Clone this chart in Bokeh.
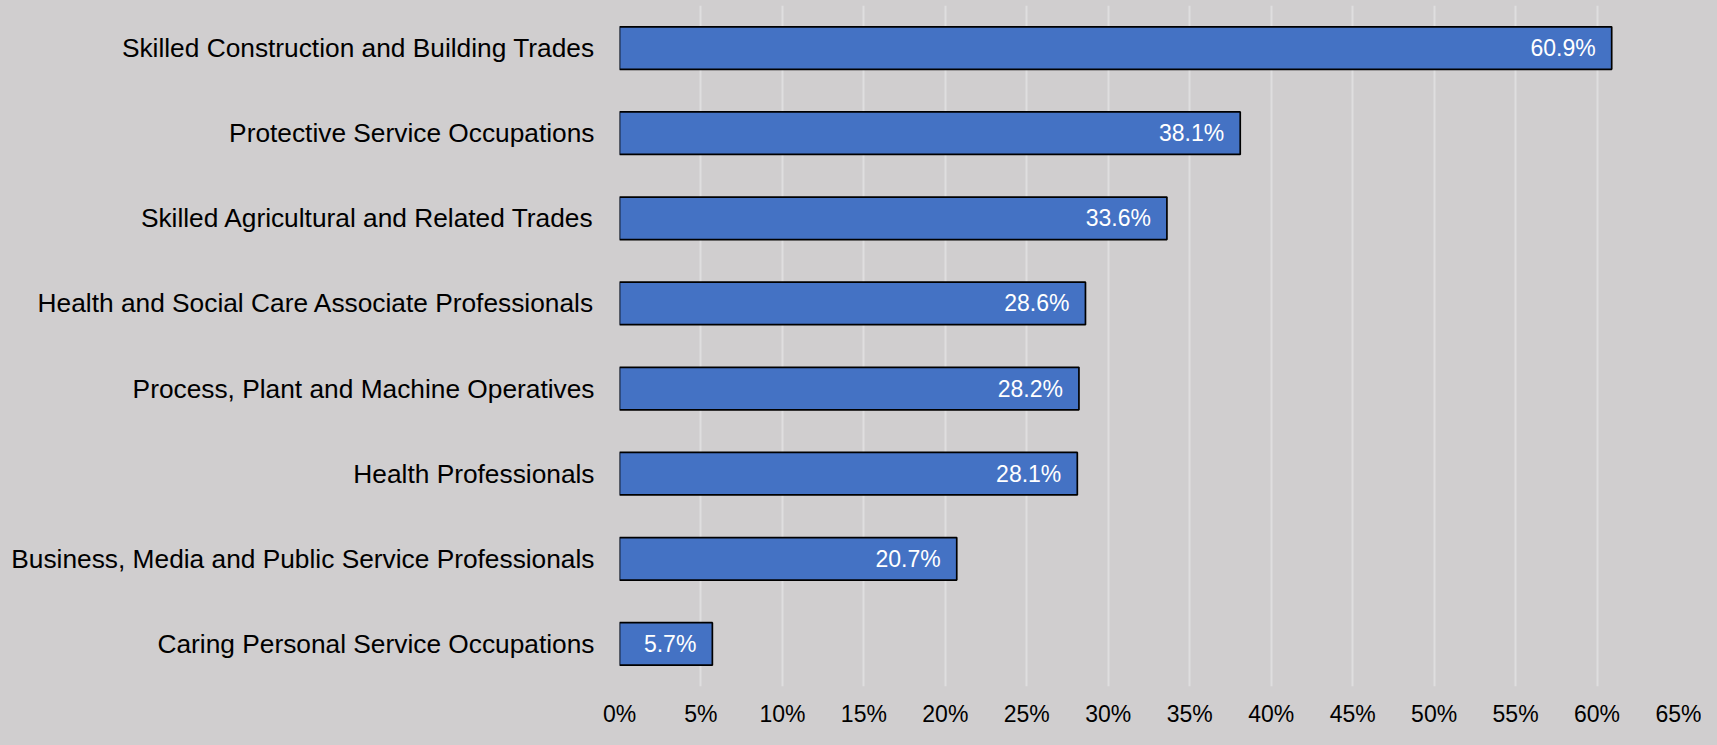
from bokeh.plotting import figure
from bokeh.models import ColumnDataSource, FactorRange, Range1d, FixedTicker
from bokeh.embed import file_html
from bokeh.resources import INLINE
from bokeh.core.properties import value

categories = [
    "Skilled Construction and Building Trades",
    "Protective Service Occupations",
    "Skilled Agricultural and Related Trades",
    "Health and Social Care Associate Professionals",
    "Process, Plant and Machine Operatives",
    "Health Professionals",
    "Business, Media and Public Service Professionals",
    "Caring Personal Service Occupations",
]
values = [60.9, 38.1, 33.6, 28.6, 28.2, 28.1, 20.7, 5.7]
labels = [f"{v:.1f}%" for v in values]
tick_values = list(range(0, 70, 5))
tick_labels = {t: f"{t}%" for t in tick_values}

BG = "#d0cecf"
FONT = "Liberation Sans"

src = ColumnDataSource(dict(cat=categories, val=values, lab=labels))

p = figure(
    width=1701, height=729,
    y_range=FactorRange(*reversed(categories), range_padding=0),
    x_range=Range1d(0, 65),
    output_backend="svg", toolbar_location=None,
    min_border_left=619, min_border_right=23, min_border_top=5, min_border_bottom=30,
)
p.background_fill_color = BG
p.border_fill_color = BG
p.outline_line_color = None

p.hbar(y="cat", right="val", left=0, height=0.5, source=src,
       fill_color="#4472c4", line_color="#000000", line_width=1.7)

p.text(x="val", y="cat", text="lab", source=src, x_offset=-16,
       text_align="right", text_baseline="middle", text_color="white",
       text_font=value(FONT), text_font_size="23px")

p.xaxis.ticker = FixedTicker(ticks=tick_values)
p.xaxis.major_label_overrides = tick_labels
p.xaxis.axis_line_color = None
p.xaxis.major_tick_line_color = None
p.xaxis.minor_tick_line_color = None
p.xaxis.major_label_text_font = FONT
p.xaxis.major_label_text_font_size = "23px"
p.xaxis.major_label_text_color = "#000000"
p.xaxis.major_label_text_line_height = 1.0
p.xaxis.major_label_standoff = 8

p.yaxis.axis_line_color = None
p.yaxis.major_tick_line_color = None
p.yaxis.minor_tick_line_color = None
p.yaxis.major_label_text_font = FONT
p.yaxis.major_label_text_font_size = "26.3px"
p.yaxis.major_label_text_color = "#000000"
p.yaxis.major_label_standoff = 19

p.xgrid.grid_line_color = "#dfdedf"
p.xgrid.grid_line_width = 2
p.ygrid.grid_line_color = None

html = file_html(p, INLINE)
html = html.replace("<head>", "<head><style>html, body { background: %s; }</style>" % BG, 1)
open("out.html", "w").write(html)
